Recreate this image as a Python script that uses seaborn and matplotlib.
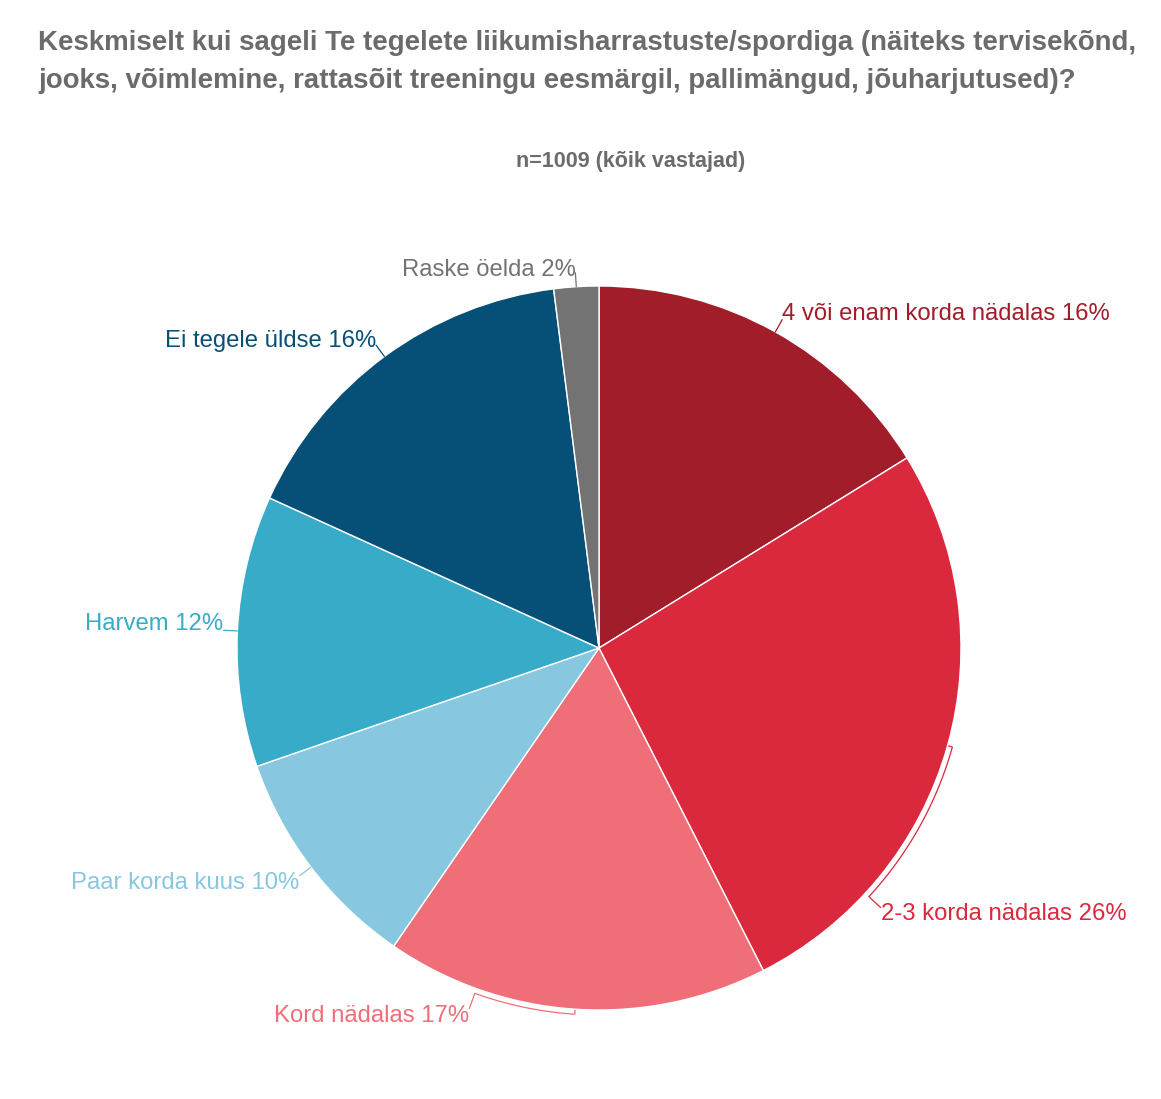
import numpy as np
import matplotlib
matplotlib.use("Agg")
import matplotlib.pyplot as plt
import seaborn as sns

# Survey answers, clockwise from the top
categories = [
    "4 või enam korda nädalas",
    "2-3 korda nädalas",
    "Kord nädalas",
    "Paar korda kuus",
    "Harvem",
    "Ei tegele üldse",
    "Raske öelda",
]
shares = [16.2, 26.3, 17.1, 10.1, 12.1, 16.2, 2.0]
colors = ["#a01d29", "#da283c", "#f06e78", "#87c7e0", "#38abc8", "#064f77", "#737373"]

title_lines = [
    "Keskmiselt kui sageli Te tegelete liikumisharrastuste/spordiga (näiteks tervisekõnd,",
    "jooks, võimlemine, rattasõit treeningu eesmärgil, pallimängud, jõuharjutused)?",
]
subtitle = "n=1009 (kõik vastajad)"

# label layout: angular shift of the label from the slice middle (degrees, clockwise)
label_shift = [0.0, 27.0, 16.0, 0.0, 0.0, 0.0, 0.0]
# extra downward nudge of the label baseline (pixels)
label_drop = [0, 12, 14, 13, 0, 2, 3]

sns.set_theme(style="white")
plt.rcParams["font.family"] = ["Liberation Sans", "DejaVu Sans"]

W, H = 1161, 1099
fig = plt.figure(figsize=(W / 100, H / 100), dpi=100)
ax = fig.add_axes([0, 0, 1, 1])

cx, cy, R = 599, H - 648, 362
ax.pie(shares, colors=colors, startangle=90, counterclock=False,
       center=(cx, cy), radius=R, frame=True,
       wedgeprops=dict(edgecolor="white", linewidth=1.0))
ax.set_xlim(0, W)
ax.set_ylim(0, H)
ax.set_aspect("equal")
ax.axis("off")


def polar(theta_deg, r):
    t = np.deg2rad(theta_deg)
    return cx + r * np.sin(t), cy + r * np.cos(t)


total = sum(shares)
cum = np.cumsum([0] + shares)
for i, (name, val, col) in enumerate(zip(categories, shares, colors)):
    mid = 360 * (cum[i] + cum[i + 1]) / 2 / total
    shift = label_shift[i]
    if shift == 0:
        x0, y0 = polar(mid, R)
        x1, y1 = polar(mid, R + 14)
        ax.plot([x0, x1], [y0, y1], color=col, lw=0.9)
        lx, ly = x1, y1
        lab_theta = mid
    else:
        # bracket hugging the rim, from the slice middle to the label
        lab_theta = mid + shift
        rb = R + 5
        ts = np.linspace(mid, lab_theta, 60)
        bx, by = polar(ts, rb)
        hx, hy = polar(mid, R + 1)
        ex, ey = polar(lab_theta, R + 21)
        ax.plot(np.r_[hx, bx, ex], np.r_[hy, by, ey], color=col, lw=0.9)
        lx, ly = ex, ey
    ly -= label_drop[i]
    ha = "left" if (lab_theta % 360) < 180 else "right"
    ax.text(lx, ly, f"{name} {round(val):d}%", color=col, fontsize=17.2,
            ha=ha, va="baseline")

title_color = "#6b6b6b"
ax.text(38, H - 50, title_lines[0], color=title_color, fontsize=19.9,
        fontweight="bold", ha="left", va="baseline")
ax.text(38, H - 88, title_lines[1], color=title_color, fontsize=19.9,
        fontweight="bold", ha="left", va="baseline")
ax.text(631, H - 167, subtitle, color=title_color, fontsize=15.5,
        fontweight="bold", ha="center", va="baseline")

fig.savefig("out.png", dpi=100, facecolor="white")
